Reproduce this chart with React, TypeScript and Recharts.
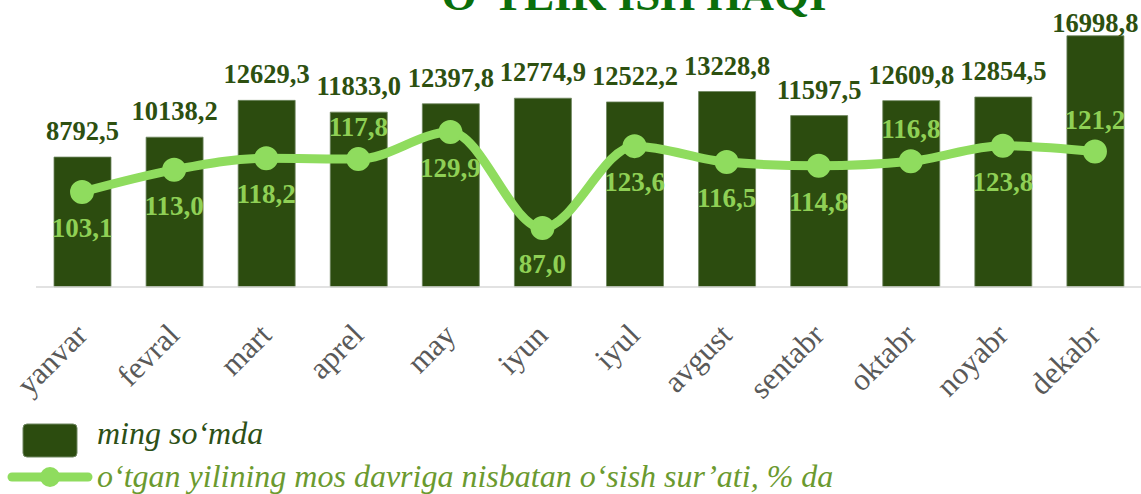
import React from "react"
import { ComposedChart, Bar, Line, XAxis, YAxis, LabelList } from "recharts"

const months = ["yanvar", "fevral", "mart", "aprel", "may", "iyun", "iyul", "avgust", "sentabr", "oktabr", "noyabr", "dekabr"]
const wageValues = [8792.5, 10138.2, 12629.3, 11833.0, 12397.8, 12774.9, 12522.2, 13228.8, 11597.5, 12609.8, 12854.5, 16998.8]
const growthValues = [103.1, 113.0, 118.2, 117.8, 129.9, 87.0, 123.6, 116.5, 114.8, 116.8, 123.8, 121.2]

const barName = "ming so‘mda"
const lineName = "o‘tgan yilining mos davriga nisbatan o‘sish sur’ati, % da"
const title = "OʻYLIK ISH HAQI"

// growth labels that Excel put above the point instead of below
const labelsAbove = [3, 9, 11]

const BAR = "#2c4c0f"
const LINE = "#8fdc5e"
const SERIF = "'Liberation Serif', 'Times New Roman', serif"

const data = months.map((m, i) => ({ month: m, wage: wageValues[i], growth: growthValues[i] }))

const fmt = (v: number) => v.toFixed(1).replace(".", ",")

function BarValue(props: any) {
  const vb = props.viewBox || props
  const x = vb.x + (vb.width || 0) / 2
  const y = Math.max(vb.y - 17, 32)
  return (
    <text x={x} y={y} textAnchor="middle" fill="#2d5010" fontFamily={SERIF} fontWeight="bold" fontSize={26.5}>
      {fmt(Number(props.value))}
    </text>
  )
}

function LineValue(props: any) {
  const vb = props.viewBox || props
  const above = labelsAbove.includes(props.index)
  const y = above ? vb.y - 23 : vb.y + 45
  return (
    <text x={vb.x} y={y} textAnchor="middle" fill="#8fd055" fontFamily={SERIF} fontWeight="bold" fontSize={27}>
      {fmt(Number(props.value))}
    </text>
  )
}

function MonthTick({ x, y, payload }: any) {
  return (
    <g transform={`translate(${x + 7},${y + 42})`}>
      <text transform="rotate(-45)" textAnchor="end" fill="#595959" fontFamily={SERIF} fontSize={31}>
        {payload.value}
      </text>
    </g>
  )
}

export default function App() {
  return (
    <div style={{ position: "absolute", left: 0, top: 0, width: 1141, height: 494, overflow: "hidden", background: "#fff" }}>
      <ComposedChart width={1141} height={494} data={data} margin={{ top: 21, right: 0, bottom: 0, left: 36 }}>
        <XAxis
          dataKey="month"
          interval={0}
          height={207}
          tickLine={false}
          axisLine={{ stroke: "#d9d9d9", strokeWidth: 1.5 }}
          tick={<MonthTick />}
        />
        <YAxis yAxisId="wage" hide domain={[0, 18000]} />
        <YAxis yAxisId="growth" hide orientation="right" domain={[60.67, 179.5]} />
        <Bar yAxisId="wage" dataKey="wage" name={barName} fill={BAR} stroke="#6f8660" strokeWidth={0.8} barSize={57} isAnimationActive={false}>
          <LabelList dataKey="wage" content={<BarValue />} />
        </Bar>
        <Line
          yAxisId="growth"
          dataKey="growth"
          name={lineName}
          type="monotone"
          stroke={LINE}
          strokeWidth={9}
          dot={{ r: 11, fill: LINE, stroke: LINE, strokeWidth: 2 }}
          activeDot={false}
          isAnimationActive={false}
        >
          <LabelList dataKey="growth" content={<LineValue />} />
        </Line>
      </ComposedChart>

      <svg width={1141} height={40} style={{ position: "absolute", left: 0, top: 0 }}>
        <text x={634} y={10} textAnchor="middle" fill="#0b6e0b" fontFamily={SERIF} fontWeight="bold" fontSize={45}>
          {title}
        </text>
      </svg>

      <svg width={1141} height={84} style={{ position: "absolute", left: 0, top: 410 }}>
        <rect x={23} y={14} width={54} height={33} rx={4} fill={BAR} stroke="#6f8660" strokeWidth={1} />
        <text x={97} y={34} fill="#2d5016" fontFamily={SERIF} fontStyle="italic" fontSize={32}>
          {barName}
        </text>
        <line x1={12} y1={67} x2={88} y2={67} stroke={LINE} strokeWidth={9} strokeLinecap="round" />
        <circle cx={50} cy={67} r={10} fill={LINE} />
        <text x={97} y={77} fill="#6b9a2f" fontFamily={SERIF} fontStyle="italic" fontSize={32}>
          {lineName}
        </text>
      </svg>
    </div>
  )
}
